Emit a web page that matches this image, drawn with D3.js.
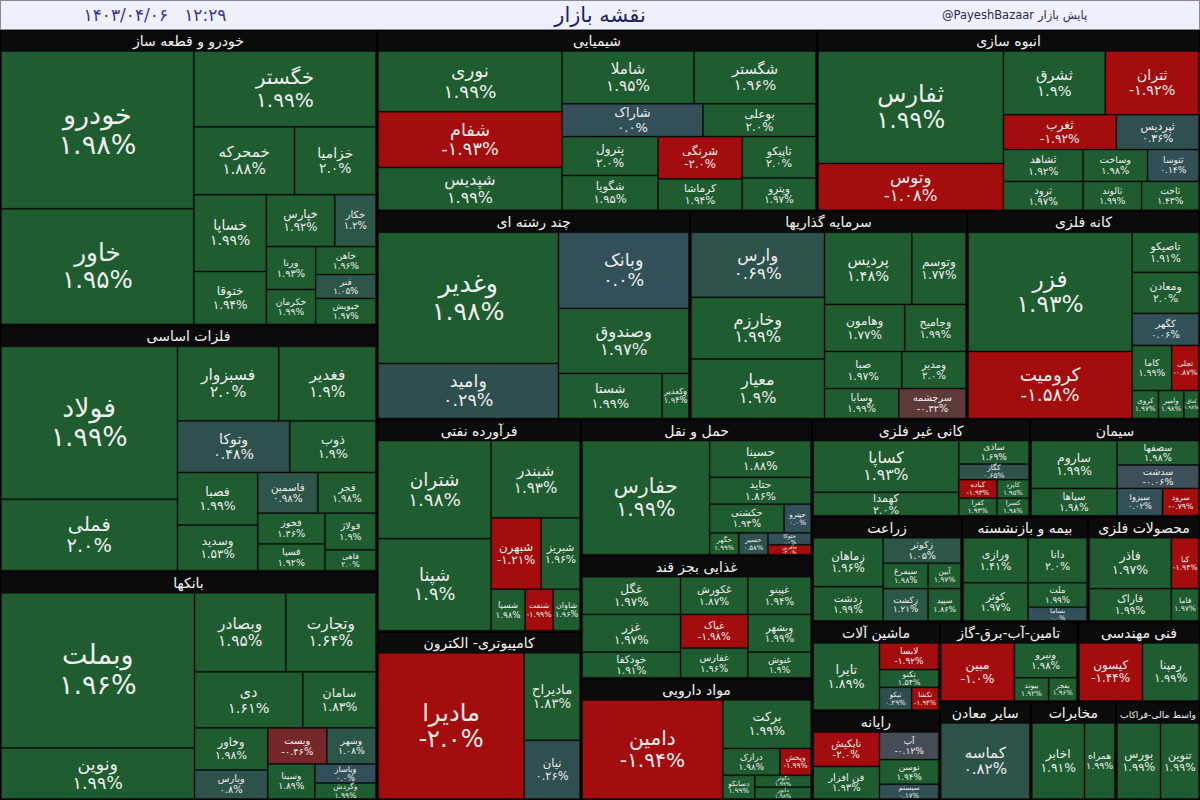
<!DOCTYPE html>
<html><head><meta charset="utf-8">
<script src="https://cdn.jsdelivr.net/npm/d3@7"></script>
<style>
html,body{margin:0;padding:0;background:#000;}
svg{display:block;font-family:"DejaVu Sans",sans-serif;}
</style></head><body>
<svg id="chart" width="1200" height="800"></svg>
<script>
// ---------- texts ----------
const titleText = "نقشه بازار";
const dateText = "۱۴۰۳/۰۴/۰۶   ۱۲:۲۹";
const handleLatin = "@PayeshBazaar";
const handlePersian = "پایش بازار";

// ---------- sectors (layout order) ----------
const sectorNames = ["خودرو و قطعه ساز","فلزات اساسی","بانکها","شیمیایی","انبوه سازی","چند رشته ای","سرمایه گذاریها","کانه فلزی","فرآورده نفتی","کامپیوتری- الکترون","حمل و نقل","غذایی بجز قند","مواد دارویی","کانی غیر فلزی","سیمان","زراعت","بیمه و بازنشسته","محصولات فلزی","ماشین آلات","رایانه","تامین-آب-برق-گاز","فنی مهندسی","سایر معادن","مخابرات","واسط مالی-فراکاب"];
const rootRows = "v3 h2 h3 v2 v3 h2 h3 v2 h2 h3";
const sectorRows = ["v2 h1 h2 v2 h2 v2 h1 v2","v2 h2 h2 v2 h2 v2 v2","v2 h2 h2 v2 h2 v1 v2","v3 h2 h2 v2 v2 v2","v2 h2 h2 h3 h3","v2 h1 h1 h2","v3 h2 h2 h2 h2","v2 h1 h1 h1 h2 h3","v2 h1 h2 h3","v1 v2","v1 h1 h1 h2 v1 v1 v2","h3 v2 v2 v2","v1 h1 h2 v1 v2","v2 h1 h1 v2 v2","v2 h1 h1 h2","v2 h1 v2 v2","v2 v3","v2 v2","v1 h1 h1 h2","v2 v3","v1 h1 h2","h2","h1","h2","h2"];

// ---------- stocks: [symbol, value, change %] ----------
const khodro = [["خودرو",33010,1.98],["خاور",24179,1.95],["خگستر",14986,1.99],["خمحرکه",7408,1.88],["خزامیا",6000,2.0],["خساپا",6040,1.99],["ختوقا",4157,1.94],["خپارس",3852,1.92],["خکار",2323,1.2],["ورنا",2295,1.93],["خکرمان",1868,1.99],["خاهن",1830,1.96],["فنر",1569,1.05],["خبویش",1699,1.97]];
const felezat = [["فولاد",29739,1.99],["فملی",13904,2.0],["فسبزوار",8311,2.0],["فغدیر",7982,1.9],["وتوکا",6390,0.48],["ذوب",4907,1.9],["فصبا",4652,1.99],["وسدید",4038,1.53],["فاسمین",2699,0.98],["فجر",2609,1.98],["فخوز",2279,1.46],["فسپا",1985,1.92],["فولاژ",2070,1.9],["فاهی",1175,2.0]];
const banks = [["وبملت",33376,1.96],["ونوین",10982,1.99],["وبصادر",8021,1.95],["وتجارت",7933,1.64],["دی",6748,1.61],["سامان",4561,1.83],["وخاور",3421,1.98],["ویارس",2362,0.8],["ویست",2370,-0.46],["وشهر",1968,1.08],["وسینا",1835,1.89],["ویاسار",1293,0.0],["وگردش",1089,1.99]];
const shimi = [["نوری",12755,1.99],["شفام",11710,-1.93],["شپدیس",8991,1.99],["شاملا",7950,1.95],["شگستر",7348,1.96],["شاراک",5288,0.0],["بوعلی",4238,2.0],["پترول",4255,2.0],["شگویا",3818,1.95],["شرنگی",4057,-2.0],["کرماشا",3018,1.94],["تاپیکو",3484,2.0],["وپترو",2727,1.97]];
const anbooh = [["ثفارس",23832,1.99],["وتوس",9912,-1.08],["ثشرق",7409,1.9],["ثتران",6822,-1.92],["ثغرب",4493,-1.92],["ثپردیس",3290,0.36],["ثشاهد",2898,1.92],["وساخت",2347,1.98],["ثتوسا",1871,0.14],["ثرود",2626,1.97],["ثالوند",1928,1.99],["ثاخت",1895,1.43]];
const chand = [["وغدیر",26601,1.98],["وامید",11168,0.29],["وبانک",11169,0.0],["وصندوق",9553,1.97],["شستا",5250,1.99],["وکغدیر",1363,1.94]];
const sarmaye = [["وارس",9771,0.69],["وخارزم",9250,1.99],["معیار",8952,1.9],["پردیس",7080,1.48],["وتوسم",4395,1.77],["وهامون",4250,1.77],["وجامیح",3241,1.99],["صبا",3220,1.97],["ومدیر",2677,2.0],["وسایا",2509,1.99],["سرچشمه",2272,-0.32]];
const kane = [["فزر",22031,1.93],["کرومیت",12404,-1.58],["تاصیکو",3017,1.91],["ومعادن",3092,2.0],["کگهر",2414,0.06],["کاما",2006,1.99],["تجلی",1389,-0.87],["کروی",832,1.97],["وامیر",800,1.98],["کفاق",480,1.98]];
const faravarde = [["شتران",12474,1.98],["شپنا",11718,1.9],["شبندر",7741,1.93],["شبهرن",4014,-1.21],["شبریز",3131,1.96],["شسپا",1592,1.98],["شنفت",1311,-1.99],["شاوان",1264,1.96]];
const computer = [["مادیرا",24771,-2.0],["مادیراح",5688,1.83],["نیان",3813,0.26]];
const haml = [["حفارس",17500,1.99],["حسینا",4478,1.88],["حتاید",3268,1.86],["حکشتی",2571,1.94],["حپترو",938,0.0],["حگهر",764,1.99],["حسیر",764,0.58],["حتوکا",618,0.0],["حآفرین",515,-2.0]];
const ghazaei = [["غگل",4550,1.97],["غکورش",3110,1.87],["غپینو",2925,1.94],["غزر",4550,1.97],["خودکفا",3113,1.91],["غپاک",2783,-1.98],["غفارس",2456,1.96],["وبشهر",2925,1.99],["غنوش",2001,1.9]];
const darooei = [["دامین",17163,-1.94],["برکت",5286,1.99],["درازک",1887,1.98],["وپخش",1026,-1.99],["دسانکو",941,1.99],["دکوثر",824,1.99],["دابور",824,1.98]];
const kani = [["کساپا",9816,1.93],["کهمدا",4445,2.0],["ساذی",2146,1.69],["کگاز",1431,0.65],["کباده",922,-1.93],["کفرا",874,1.93],["کایزد",777,1.95],["کسرا",736,1.98]];
const siman = [["ساروم",5373,1.99],["سپاها",3070,1.98],["سصفها",2612,1.98],["سدشت",2508,-0.06],["سبزوا",1626,0.02],["سرود",1300,-0.79]];
const zeraat = [["زماهان",4382,1.96],["زدشت",3067,1.99],["زکوثر",2539,1.05],["سیمرغ",1465,1.98],["زکشت",1859,1.21],["آبین",1074,1.97],["سپید",1363,1.86]];
const bime = [["ورازی",3753,1.41],["کوثر",3182,1.97],["دانا",3407,2.0],["ملت",1851,1.99],["بساما",1037,0.0]];
const mahsoolat = [["فاذر",5379,1.97],["فاراک",3414,1.99],["کیا",1815,-1.94],["فاما",1152,1.97]];
const mashin = [["تایرا",5993,1.89],["لابسا",2127,-1.92],["تکنو",1418,1.54],["تیکو",983,0.29],["تکشا",829,-1.94]];
const rayane = [["تاپکیش",3082,-2.0],["فن افزار",2906,1.93],["آپ",2204,-0.12],["توسن",1968,1.94],["سیستم",1181,0.17]];
const tamin = [["مبین",5970,-1.0],["ونیرو",3042,1.98],["بیوند",1112,1.92],["بفجر",916,1.96]];
const fanni = [["کیسون",5172,-1.44],["رمپنا",4588,1.99]];
const sayer = [["کماسه",8918,0.82]];
const mokhaberat = [["اخابر",5282,1.91],["همراه",3048,1.99]];
const vaset = [["بورس",4376,1.99],["تنوین",3856,1.99]];
const sectorStocks = [khodro,felezat,banks,shimi,anbooh,chand,sarmaye,kane,faravarde,computer,haml,ghazaei,darooei,kani,siman,zeraat,bime,mahsoolat,mashin,rayane,tamin,fanni,sayer,mokhaberat,vaset];

// ---------- helpers ----------
const W = 1200, H = 800, TOP = 30;
const svg = d3.select("#chart");
const faDigits = "۰۱۲۳۴۵۶۷۸۹";
const toFa = s => s.replace(/[0-9]/g, c => faDigits[+c]);
function fmtPct(v) {
  let s = Math.abs(v).toFixed(2);
  if (s.endsWith("0")) s = s.slice(0, -1);
  return (v < 0 ? "-" : "") + toFa(s) + "%";
}
const color = d3.scaleLinear()
  .domain([-0.8, -0.45, -0.3, -0.1, 0, 0.3, 1.2, 1.4])
  .range(["#a30d0d", "#74282a", "#5a3d3d", "#444e58", "#33505a", "#2f4f4f", "#2c5748", "#1f5c30"])
  .clamp(true);

// row-based tiling using d3's dice / slice
function rowTile(node, x0, y0, x1, y1) {
  const spec = (node.data.rows || "").split(" ");
  let value = node.value, i = 0;
  for (const tok of spec) {
    const n = +tok.slice(1);
    const kids = node.children.slice(i, i + n);
    const sum = d3.sum(kids, d => d.value);
    const row = {children: kids, value: sum};
    if (tok[0] === "h") {
      const y = value ? y0 + (y1 - y0) * sum / value : y1;
      d3.treemapDice(row, x0, y0, x1, y); y0 = y;
    } else {
      const x = value ? x0 + (x1 - x0) * sum / value : x1;
      d3.treemapSlice(row, x0, y0, x, y1); x0 = x;
    }
    value -= sum; i += n;
  }
}

const data = {
  name: "root", rows: rootRows,
  children: sectorNames.map((n, i) => ({
    name: n, rows: sectorRows[i],
    children: sectorStocks[i].map(([name, value, change]) => ({name, value, change}))
  }))
};
const root = d3.hierarchy(data).sum(d => d.value);
d3.treemap()
  .size([W, H - TOP])
  .tile(rowTile)
  .paddingInner(d => d.depth === 0 ? 2 : 0)
  .paddingTop(d => d.depth === 0 ? 1 : (d.depth === 1 ? 20 : 0))
  .paddingLeft(d => d.depth === 0 ? 1 : 0)
  .paddingRight(d => d.depth === 0 ? 1 : 0)
  .paddingBottom(d => d.depth === 0 ? 1 : 0)
  (root);

// ---------- header bar ----------
svg.append("rect").attr("x", 0.5).attr("y", 0.5).attr("width", W - 1).attr("height", TOP - 1)
  .attr("fill", "#eef0fb").attr("stroke", "#8a8a99");
svg.append("text").attr("x", W / 2).attr("y", 22).attr("text-anchor", "middle")
  .attr("font-size", 21).attr("fill", "#1d2266").text(titleText);
svg.append("text").attr("x", 155).attr("y", 21).attr("text-anchor", "middle")
  .attr("font-size", 17).attr("fill", "#3b3590").style("white-space", "pre").text(dateText);
svg.append("text").attr("x", 1034).attr("y", 19).attr("text-anchor", "end")
  .attr("font-size", 11.5).attr("fill", "#2a2a50").text(handleLatin);
svg.append("text").attr("x", 1038).attr("y", 19).attr("text-anchor", "start")
  .attr("font-size", 11.5).attr("fill", "#2a2a50").text(handlePersian);

// ---------- treemap ----------
const g = svg.append("g").attr("transform", `translate(0,${TOP})`);
const measurer = svg.append("text").style("visibility", "hidden");
function textLen(s, size) { measurer.attr("font-size", size).text(s); return measurer.node().getComputedTextLength(); }

const sectors = g.selectAll("g.sector").data(root.children).join("g").attr("class", "sector");
sectors.append("rect")
  .attr("x", d => d.x0).attr("y", d => d.y0)
  .attr("width", d => d.x1 - d.x0).attr("height", d => d.y1 - d.y0)
  .attr("fill", "#0b0b0b");
sectors.append("text")
  .attr("x", d => (d.x0 + d.x1) / 2).attr("y", d => d.y0 + 15)
  .attr("text-anchor", "middle").attr("fill", "#f4f4f4")
  .attr("font-size", d => Math.min(14, 14 * (d.x1 - d.x0 - 6) / textLen(d.data.name, 14)))
  .text(d => d.data.name);

const leaves = g.selectAll("g.leaf").data(root.leaves()).join("g").attr("class", "leaf");
leaves.append("rect")
  .attr("x", d => d.x0 + 0.5).attr("y", d => d.y0 + 0.5)
  .attr("width", d => Math.max(0, d.x1 - d.x0 - 1)).attr("height", d => Math.max(0, d.y1 - d.y0 - 1))
  .attr("fill", d => color(d.data.change))
  .attr("stroke", "rgba(0,0,0,0.35)").attr("stroke-width", 1);

leaves.each(function(d) {
  const w = d.x1 - d.x0, h = d.y1 - d.y0;
  const cx = (d.x0 + d.x1) / 2, cy = (d.y0 + d.y1) / 2;
  const pct = fmtPct(d.data.change);
  let fs = Math.min(27, 3.3 + Math.sqrt(w * h) / 7, h / 2.1);
  const len = Math.max(textLen(d.data.name, 10), textLen(pct, 10)) / 10;
  fs = Math.max(5, Math.min(fs, (w - 3) / len));
  const sel = d3.select(this);
  sel.append("text").attr("x", cx).attr("y", cy - 0.22 * fs)
    .attr("text-anchor", "middle").attr("font-size", fs).attr("fill", "#eeeeee")
    .text(d.data.name);
  sel.append("text").attr("x", cx).attr("y", cy + 0.88 * fs)
    .attr("text-anchor", "middle").attr("font-size", fs).attr("fill", "#eeeeee")
    .attr("direction", "ltr")
    .text(pct);
});
measurer.remove();
</script>
</body></html>
